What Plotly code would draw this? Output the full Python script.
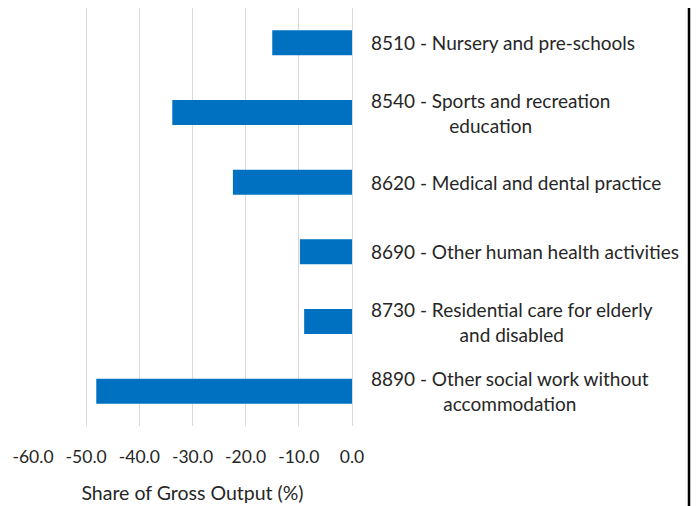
import plotly.graph_objects as go

categories = [
    "8510 - Nursery and pre-schools",
    "8540 - Sports and recreation<br>education",
    "8620 - Medical and dental practice",
    "8690 - Other human health activities",
    "8730 - Residential care for elderly<br>and disabled",
    "8890 - Other social work without<br>accommodation",
]
values = [-15.0, -33.8, -22.4, -9.8, -9.0, -48.1]
tick_vals = [-60, -50, -40, -30, -20, -10, 0]
tick_text = ["-60.0", "-50.0", "-40.0", "-30.0", "-20.0", "-10.0", "0.0"]
x_title = "Share of Gross Output (%)"

FONT = "Lato"
TXT = "#262626"
GRID = "#D9D9D9"

# page body has an 8px default margin; margins below compensate for it
L, R, T, B = 25, 355, 0, 88
PW = 699 - L - R
PH = 506 - T - B

fig = go.Figure()
fig.add_trace(go.Bar(
    x=values, y=categories, orientation="h",
    marker=dict(color="#0070C0", line=dict(width=0)),
    showlegend=False,
))

for cat in categories:
    fig.add_annotation(
        x=1, xref="paper", xanchor="left", xshift=17,
        y=cat, yref="y", yanchor="middle",
        text=cat, align="center", showarrow=False,
        font=dict(family=FONT, size=19, color=TXT),
    )

border_x = 1 + (681 - (L + PW)) / PW

fig.update_layout(
    width=699, height=506,
    margin=dict(l=L, r=R, t=T, b=B, autoexpand=False),
    paper_bgcolor="white", plot_bgcolor="white",
    bargap=0.64,
    font=dict(family=FONT, size=17, color=TXT),
    xaxis=dict(
        range=[-60, 0], tickvals=tick_vals, ticktext=tick_text,
        showgrid=True, gridcolor=GRID, gridwidth=1,
        zeroline=True, zerolinecolor=GRID, zerolinewidth=1,
        showline=False, ticks="", ticklabelstandoff=18,
        tickfont=dict(family=FONT, size=17.5, color=TXT),
        title=dict(text=x_title, standoff=20,
                   font=dict(family=FONT, size=19.5, color=TXT)),
        automargin=False, fixedrange=True,
    ),
    yaxis=dict(
        autorange="reversed", showticklabels=False, showgrid=False,
        zeroline=False, showline=False, ticks="", automargin=False,
    ),
    shapes=[dict(type="line", xref="paper", yref="paper", layer="above",
                 x0=border_x, x1=border_x,
                 y0=-B / PH, y1=1,
                 line=dict(color="#000000", width=2.5))],
)

fig.write_html("out.html")
